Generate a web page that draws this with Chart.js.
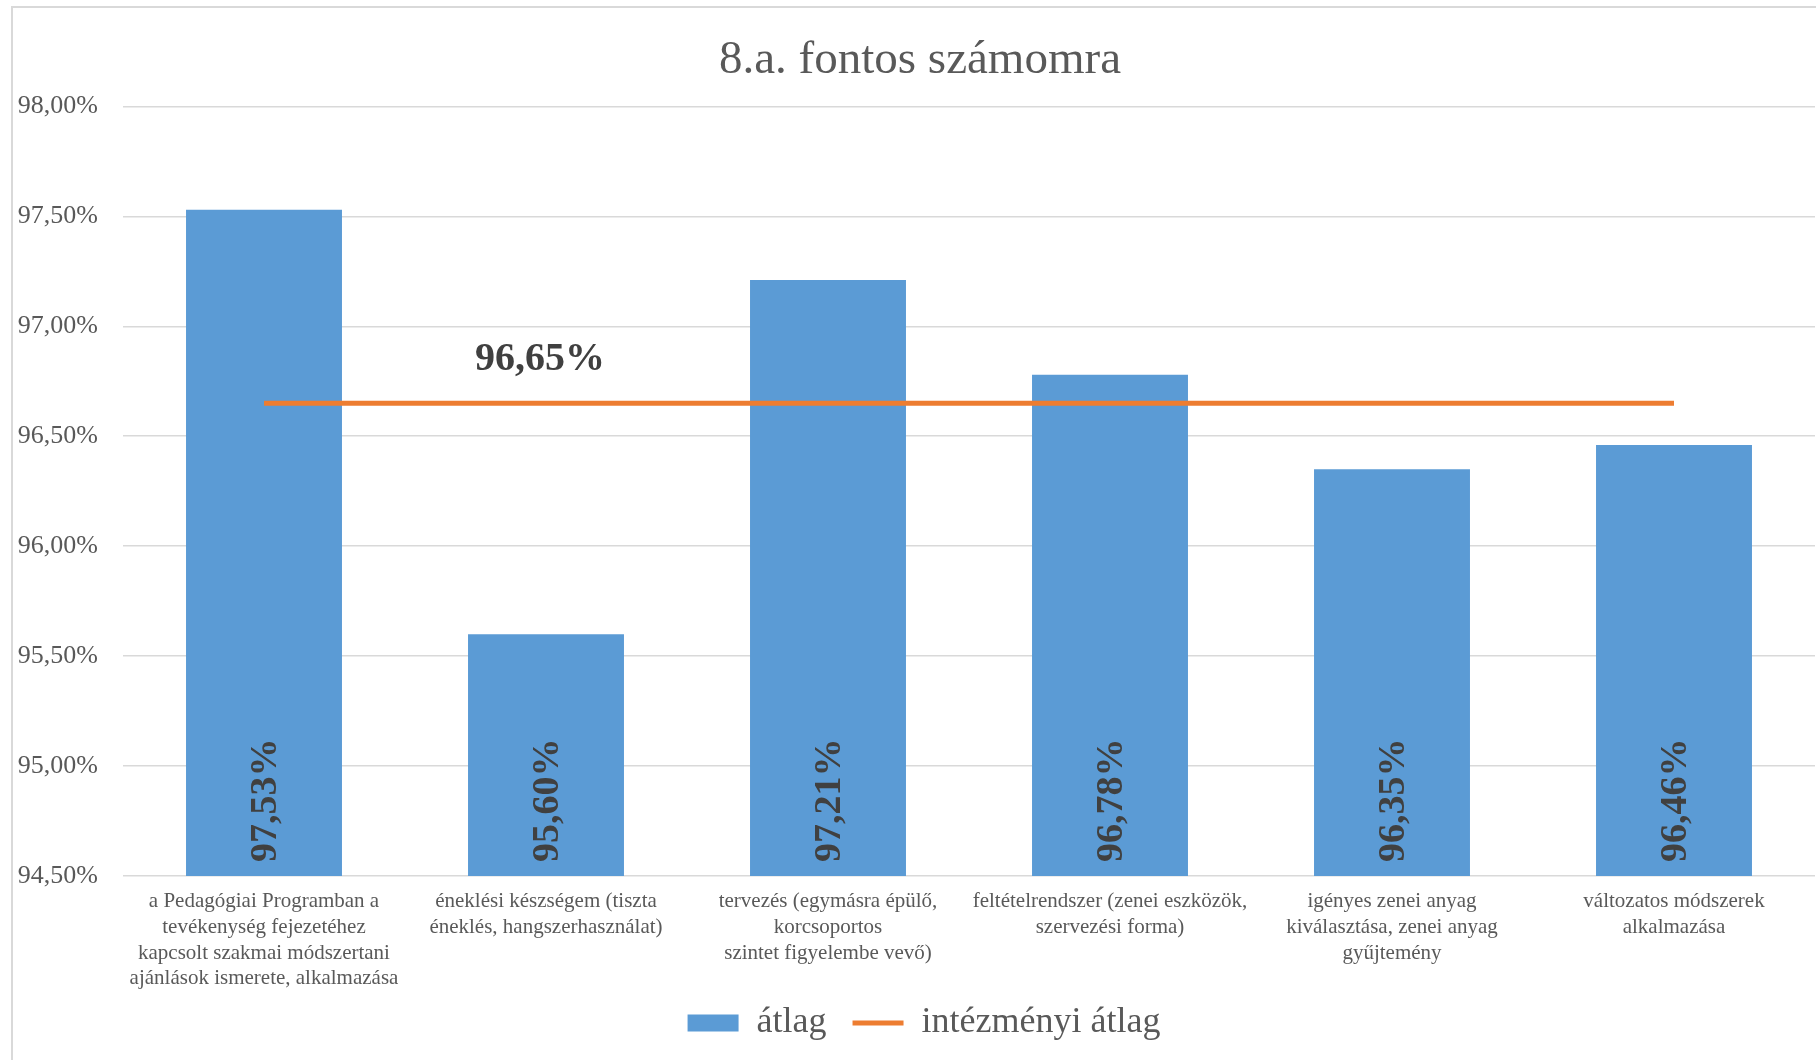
<!DOCTYPE html>
<html lang="hu">
<head>
<meta charset="utf-8">
<title>8.a. fontos számomra</title>
<script src="https://cdn.jsdelivr.net/npm/chart.js@4.4.1/dist/chart.umd.min.js"></script>
<style>
    html, body {
        margin: 0;
        padding: 0;
        background: #ffffff;
        overflow: hidden;
        width: 1816px;
        height: 1060px;
    }
    #frame {
        position: absolute;
        left: 11px;
        top: 6px;
        width: 1812px;
        height: 1056px;
        border-left: 2px solid #d9d9d9;
        border-top: 2px solid #d9d9d9;
    }
</style>
</head>
<body>
<div id="frame">
    <canvas id="chart" width="1812" height="1056"></canvas>
</div>
<script>
// categories (x axis)
const categories = [
    ['a Pedagógiai Programban a', 'tevékenység fejezetéhez', 'kapcsolt szakmai módszertani', 'ajánlások ismerete, alkalmazása'],
    ['éneklési készségem (tiszta', 'éneklés, hangszerhasználat)'],
    ['tervezés (egymásra épülő,', 'korcsoportos', 'szintet figyelembe vevő)'],
    ['feltételrendszer (zenei eszközök,', 'szervezési forma)'],
    ['igényes zenei anyag', 'kiválasztása, zenei anyag', 'gyűjtemény'],
    ['változatos módszerek', 'alkalmazása']
];

// series values (%)
const atlag = [97.53, 95.60, 97.21, 96.78, 96.35, 96.46];
const intezmenyiAtlag = [96.65, 96.65, 96.65, 96.65, 96.65, 96.65];

// y axis
const yMin = 94.5;
const yMax = 98.0;
const yStep = 0.5;

const serif = '"Liberation Serif", "Times New Roman", serif';

function fmtPct(v) {
    return v.toFixed(2).replace('.', ',') + '%';
}

// the original chart is a bit wider than the window, so title and legend sit right of the plot centre
const shiftBlocks = {
    id: 'shiftBlocks',
    afterLayout(chart) {
        const t = chart.titleBlock;
        t.left += 6;
        t.right += 6;
        const l = chart.legend;
        l.left += 10;
        l.right += 10;
        l.top -= 13;
        l.bottom -= 13;
    }
};

// draws the value labels (rotated inside the bars, and one above the line)
const valueLabels = {
    id: 'valueLabels',
    afterDatasetsDraw(chart) {
        const c = chart.ctx;
        const barMeta = chart.getDatasetMeta(0);
        const baseY = chart.chartArea.bottom;
        c.save();
        c.fillStyle = '#404040';
        c.font = 'bold 38px ' + serif;
        barMeta.data.forEach((bar, i) => {
            c.save();
            c.translate(bar.x + 2, baseY - 14);
            c.rotate(-Math.PI / 2);
            c.textAlign = 'left';
            c.textBaseline = 'middle';
            c.fillText(fmtPct(atlag[i]), 0, 0);
            c.restore();
        });

        const lineMeta = chart.getDatasetMeta(1);
        const pt = lineMeta.data[1];
        c.font = 'bold 40px ' + serif;
        c.textAlign = 'center';
        c.textBaseline = 'middle';
        c.fillText(fmtPct(intezmenyiAtlag[1]), pt.x - 6, pt.y - 44);
        c.restore();
    }
};

const ctx = document.getElementById('chart').getContext('2d');
window.mainChart = new Chart(ctx, {
    type: 'bar',
    data: {
        labels: categories,
        datasets: [{
            type: 'bar',
            label: 'átlag',
            data: atlag,
            backgroundColor: '#5B9BD5',
            borderWidth: 0,
            categoryPercentage: 1.0,
            barPercentage: 0.553,
            pointStyle: 'rect',
            order: 1
        }, {
            type: 'line',
            label: 'intézményi átlag',
            data: intezmenyiAtlag,
            borderColor: '#ED7D31',
            backgroundColor: '#ED7D31',
            borderWidth: 5,
            pointRadius: 0,
            pointHoverRadius: 0,
            pointStyle: 'line',
            fill: false,
            tension: 0,
            order: 0
        }]
    },
    options: {
        responsive: false,
        animation: false,
        layout: {
            padding: { left: 0, right: 10, top: 0, bottom: 0 }
        },
        plugins: {
            title: {
                display: true,
                text: '8.a. fontos számomra',
                color: '#595959',
                font: { family: serif, size: 47, weight: 'normal', lineHeight: 1.2 },
                padding: { top: 24, bottom: 18 }
            },
            legend: {
                position: 'bottom',
                labels: {
                    usePointStyle: true,
                    pointStyleWidth: 51,
                    boxHeight: 17,
                    padding: 26,
                    color: '#595959',
                    font: { family: serif, size: 36 },
                    sort: (a, b) => a.datasetIndex - b.datasetIndex
                }
            },
            tooltip: { enabled: false }
        },
        scales: {
            x: {
                grid: { display: false },
                border: { display: false },
                ticks: {
                    autoSkip: false,
                    maxRotation: 0,
                    minRotation: 0,
                    padding: 5,
                    color: '#595959',
                    font: { family: serif, size: 21, lineHeight: 1.22 }
                },
                afterFit: function(scale) {
                    scale.height = 116;
                }
            },
            y: {
                min: yMin,
                max: yMax,
                grid: {
                    color: '#d9d9d9',
                    lineWidth: 1.5,
                    drawTicks: false
                },
                border: { display: false },
                ticks: {
                    stepSize: yStep,
                    padding: 25,
                    color: '#595959',
                    font: { family: serif, size: 26 },
                    callback: function(value) {
                        return fmtPct(value);
                    }
                },
                afterFit: function(scale) {
                    scale.width = 110;
                }
            }
        }
    },
    plugins: [shiftBlocks, valueLabels]
});
</script>
</body>
</html>
